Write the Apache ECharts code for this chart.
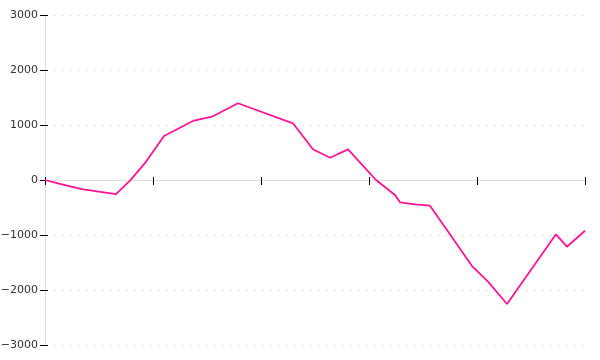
<!DOCTYPE html>
<html>
<head>
<meta charset="utf-8">
<script src="https://cdn.jsdelivr.net/npm/echarts@6/dist/echarts.min.js"></script>
<style>html,body{margin:0;padding:0;background:#fff}#c{width:600px;height:360px}</style>
</head>
<body>
<div id="c"></div>
<script>
// x positions in tick units (5 unlabeled x intervals), y values
var xValues = [0, 0.093, 0.185, 0.352, 0.657, 0.787, 0.935, 1.102, 1.370, 1.546, 1.787, 2.296, 2.481, 2.639, 2.806, 3.009, 3.065, 3.241, 3.287, 3.426, 3.565, 3.954, 4.102, 4.278, 4.731, 4.833, 5.0];
var yValues = [0, -49, -91, -169, -255, -10, 330, 800, 1073, 1151, 1395, 1031, 558, 405, 558, 122, 0, -273, -405, -442, -467, -1564, -1849, -2255, -987, -1213, -922];
var yTicks = [-3000, -2000, -1000, 0, 1000, 2000, 3000];

var data = xValues.map(function (x, i) { return [x, yValues[i]]; });
var fmt = function (v) { return String(v).replace('-', '\u2212'); };
var font = 'DejaVu Sans';

var chart = echarts.init(document.getElementById('c'), null, { renderer: 'canvas' });
chart.setOption({
  animation: false,
  grid: { left: 45, right: 15, top: 15, bottom: 15, containLabel: false, outerBoundsMode: 'none' },
  xAxis: [
    { type: 'value', min: 0, max: 5, interval: 1,
      axisLine: { onZero: true, lineStyle: { color: '#dddddd', width: 1 } },
      axisTick: { show: true, length: 5, lineStyle: { color: '#000' } },
      axisLabel: { show: false }, splitLine: { show: false } },
    { type: 'value', min: 0, max: 5, interval: 1, position: 'bottom',
      axisLine: { show: false, onZero: true },
      axisTick: { show: true, inside: true, length: 3, lineStyle: { color: '#000' } },
      axisLabel: { show: false }, splitLine: { show: false } }
  ],
  yAxis: [
    { type: 'value', min: yTicks[0], max: yTicks[yTicks.length - 1], interval: 1000,
      axisLine: { show: true, onZero: false, lineStyle: { color: '#dddddd', width: 1 } },
      axisTick: { show: true, length: 5, lineStyle: { color: '#000' } },
      axisLabel: { formatter: fmt, color: '#333', fontFamily: font, fontSize: 11, margin: 7 },
      splitLine: { show: true, lineStyle: { color: '#e8e8e8', type: [3, 5], width: 1 } } },
    { type: 'value', min: yTicks[0], max: yTicks[yTicks.length - 1], interval: 1000, position: 'left',
      axisLine: { show: false, onZero: false },
      axisTick: { show: true, inside: true, length: 3, lineStyle: { color: '#000' } },
      axisLabel: { show: false }, splitLine: { show: false } }
  ],
  series: [{
    type: 'line', xAxisIndex: 0, yAxisIndex: 0, data: data,
    showSymbol: false, symbol: 'none',
    lineStyle: { color: '#ff1493', width: 1.8 }
  }]
});
</script>
</body>
</html>
